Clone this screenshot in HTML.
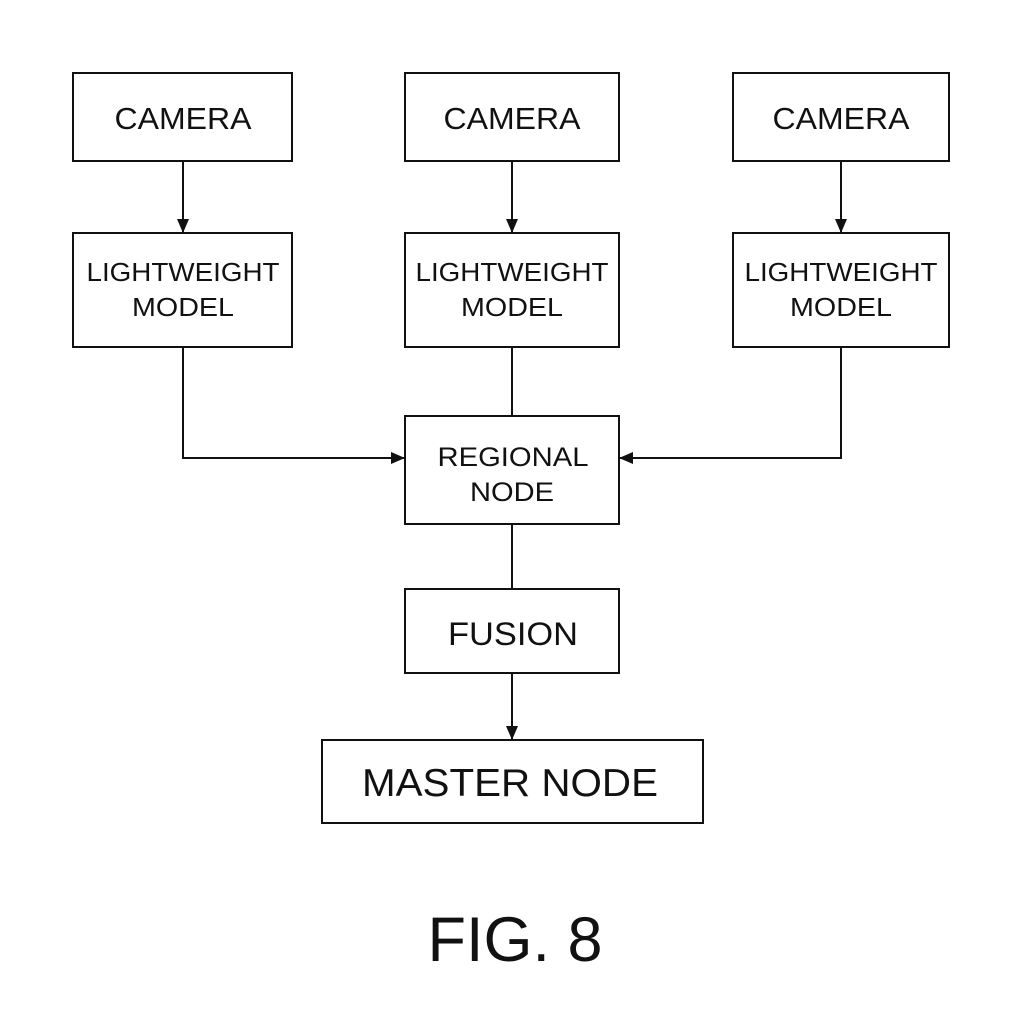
<!DOCTYPE html>
<html><head><style>body{margin:0;background:#fff}</style></head><body>
<svg width="1024" height="1024" xmlns="http://www.w3.org/2000/svg" font-family="Liberation Sans, Arial, sans-serif" fill="none" stroke="#111" stroke-width="2">
<defs><marker id="a" markerWidth="14" markerHeight="12" refX="13" refY="6" orient="auto" markerUnits="userSpaceOnUse"><path d="M0,0 L14,6 L0,12 z" fill="#111" stroke="none"/></marker></defs>
<rect x="73" y="73" width="219" height="88"/>
<rect x="405" y="73" width="214" height="88"/>
<rect x="733" y="73" width="216" height="88"/>
<rect x="73" y="233" width="219" height="114"/>
<rect x="405" y="233" width="214" height="114"/>
<rect x="733" y="233" width="216" height="114"/>
<rect x="405" y="416" width="214" height="108"/>
<rect x="405" y="589" width="214" height="84"/>
<rect x="322" y="740" width="381" height="83"/>
<line x1="183" y1="161" x2="183" y2="232" marker-end="url(#a)"/>
<line x1="512" y1="161" x2="512" y2="232" marker-end="url(#a)"/>
<line x1="841" y1="161" x2="841" y2="232" marker-end="url(#a)"/>
<polyline points="183,347 183,458 404,458" marker-end="url(#a)"/>
<polyline points="841,347 841,458 620,458" marker-end="url(#a)"/>
<line x1="512" y1="347" x2="512" y2="416"/>
<line x1="512" y1="524" x2="512" y2="589"/>
<line x1="512" y1="673" x2="512" y2="739" marker-end="url(#a)"/>
<g fill="#111" stroke="none" text-anchor="middle">
<text x="183" y="129" font-size="31" textLength="137" lengthAdjust="spacingAndGlyphs">CAMERA</text>
<text x="512" y="129" font-size="31" textLength="137" lengthAdjust="spacingAndGlyphs">CAMERA</text>
<text x="841" y="129" font-size="31" textLength="137" lengthAdjust="spacingAndGlyphs">CAMERA</text>
<text x="183" y="281" font-size="26" textLength="193" lengthAdjust="spacingAndGlyphs">LIGHTWEIGHT</text><text x="183" y="316" font-size="26" textLength="102" lengthAdjust="spacingAndGlyphs">MODEL</text>
<text x="512" y="281" font-size="26" textLength="193" lengthAdjust="spacingAndGlyphs">LIGHTWEIGHT</text><text x="512" y="316" font-size="26" textLength="102" lengthAdjust="spacingAndGlyphs">MODEL</text>
<text x="841" y="281" font-size="26" textLength="193" lengthAdjust="spacingAndGlyphs">LIGHTWEIGHT</text><text x="841" y="316" font-size="26" textLength="102" lengthAdjust="spacingAndGlyphs">MODEL</text>
<text x="513" y="466" font-size="27" textLength="151" lengthAdjust="spacingAndGlyphs">REGIONAL</text><text x="512" y="501" font-size="27" textLength="84" lengthAdjust="spacingAndGlyphs">NODE</text>
<text x="513" y="645" font-size="32" textLength="130" lengthAdjust="spacingAndGlyphs">FUSION</text>
<text x="510" y="796" font-size="39" textLength="296" lengthAdjust="spacingAndGlyphs">MASTER NODE</text>
<text x="515" y="961" font-size="63" textLength="175" lengthAdjust="spacingAndGlyphs">FIG. 8</text>
</g>
</svg>
</body></html>
